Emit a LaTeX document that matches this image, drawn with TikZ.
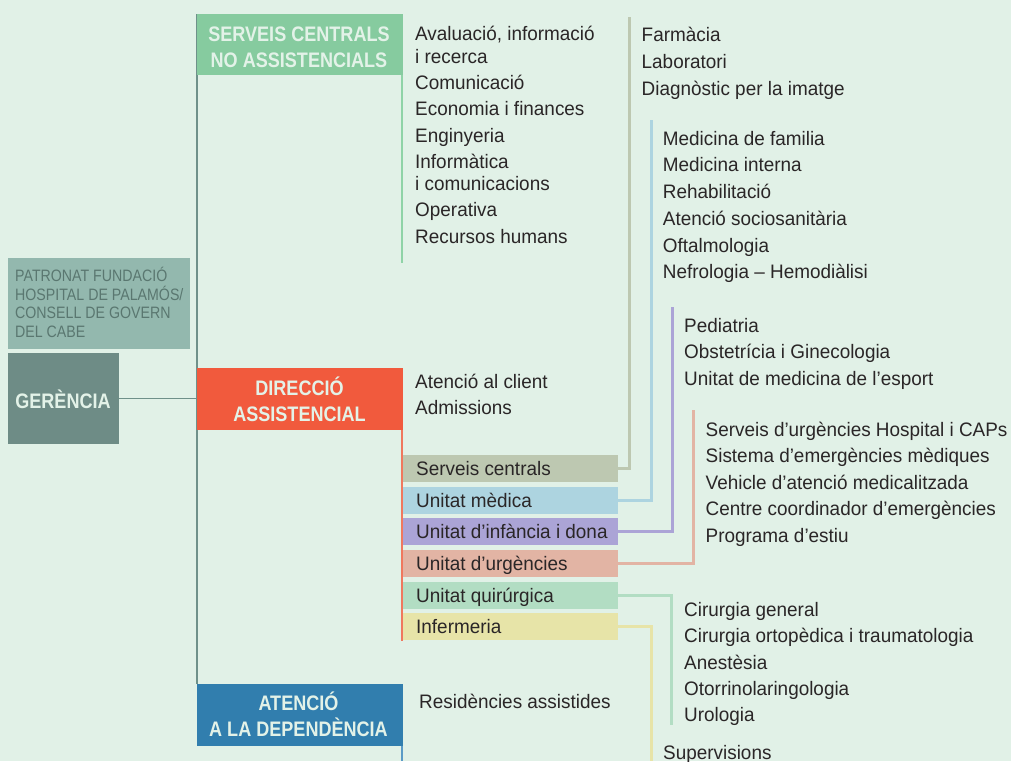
\documentclass[tikz,border=0pt]{standalone}
\usepackage{fontspec}
\setmainfont{Liberation Sans}[FakeStretch=0.97]
\newfontfamily\hfont{Liberation Sans}[FakeStretch=0.86]
\definecolor{bgc}{HTML}{E1F1E7}
\definecolor{trunkc}{HTML}{6F918A}
\definecolor{gerc}{HTML}{6E8C86}
\definecolor{patc}{HTML}{93B8AE}
\definecolor{pattext}{HTML}{5A7770}
\definecolor{scc}{HTML}{86CB9F}
\definecolor{sclinec}{HTML}{8FD3A7}
\definecolor{dirc}{HTML}{F15A3D}
\definecolor{dirlinec}{HTML}{F0785E}
\definecolor{atenc}{HTML}{317EAE}
\definecolor{atenlinec}{HTML}{5B9BC6}
\definecolor{headtxt}{HTML}{E3F2E8}
\definecolor{bodytxt}{HTML}{2A2627}
\definecolor{barsc}{HTML}{BDC8B1}
\definecolor{barmed}{HTML}{ADD4E0}
\definecolor{barinf}{HTML}{ABA4D6}
\definecolor{barurg}{HTML}{E2B4A4}
\definecolor{barqui}{HTML}{B2DDC3}
\definecolor{barinfer}{HTML}{E7E4A8}
\begin{document}
\begin{tikzpicture}[x=1pt,y=-1pt,
  box/.style={draw=none,inner sep=0pt,outer sep=0pt,anchor=north west},
  bar/.style={box,minimum width=215pt,minimum height=27pt},
  htext/.style={inner sep=0pt,anchor=base,text=headtxt,font=\hfont\bfseries\fontsize{21}{21}\selectfont},
  ptext/.style={inner sep=0pt,anchor=base west,text=pattext,font=\hfont\fontsize{16.5}{16.5}\selectfont},
  body/.style={inner sep=0pt,anchor=base west,text=bodytxt,font=\fontsize{19.5}{19.5}\selectfont},
  trunkline/.style={draw=trunkc,line width=1.5pt},
  conn/.style={line width=3pt},
  sideline/.style={line width=2pt}]
\useasboundingbox (0,0) rectangle (1011,761);
\fill[bgc] (0,0) rectangle (1011,761);

% trunk
\coordinate (trunkTop) at (197,14);
\coordinate (trunkBot) at (197,684);
\draw[trunkline] (trunkTop) -- (trunkBot);

% left boxes
\node[box,fill=patc,minimum width=182pt,minimum height=91pt] (pat) at (7.7,257.7) {};
\node[box,fill=gerc,minimum width=111.6pt,minimum height=90.7pt] (ger) at (7.7,353.3) {};
\draw[trunkline] (ger.east) -- (ger.east -| trunkTop);
\foreach \y/\txt [count=\i] in {281.7/{PATRONAT FUNDACIÓ},300/{HOSPITAL DE PALAMÓS/},318.5/{CONSELL DE GOVERN},337.3/{DEL CABE}}
  \node[ptext] (pat-\i) at (15,\y) {\txt};
\node[htext] (ger-t) at (63,408.5) {GERÈNCIA};

% heading boxes
\node[box,fill=scc,minimum width=205.5pt,minimum height=61pt] (sc) at (197,13.5) {};
\node[box,fill=dirc,minimum width=205.5pt,minimum height=62pt] (dir) at (197,368.3) {};
\node[box,fill=atenc,minimum width=205.5pt,minimum height=61.5pt] (aten) at (197,684) {};
\node[htext] (sc-t1) at (299,41.7) {SERVEIS CENTRALS};
\node[htext] (sc-t2) at (299,67.7) {NO ASSISTENCIALS};
\node[htext] (dir-t1) at (299.5,395.7) {DIRECCIÓ};
\node[htext] (dir-t2) at (299.5,421) {ASSISTENCIAL};
\node[htext] (aten-t1) at (298.5,710.7) {ATENCIÓ};
\node[htext] (aten-t2) at (298.5,736) {A LA DEPENDÈNCIA};

% side lines
\coordinate (scEnd) at (401.5,263);
\draw[sideline,sclinec] (sc.south east -| scEnd) -- (scEnd);
\coordinate (dirEnd) at (402,641);
\draw[sideline,dirlinec] (dir.south east -| dirEnd) -- (dirEnd);
\coordinate (atEnd) at (402,761);
\draw[sideline,atenlinec] (aten.south east -| atEnd) -- (atEnd);

% lists
\foreach \y/\txt [count=\i] in {40.8/{Avaluació, informació},63/{i recerca},89/{Comunicació},115.3/{Economia i finances},142/{Enginyeria},168/{Informàtica},190/{i comunicacions},216.7/{Operativa},243/{Recursos humans}}
  \node[body] (ncl-\i) at (415,\y) {\txt};
\node[body] (dir-l1) at (415,388.3) {Atenció al client};
\node[body] (dir-l2) at (415,414.3) {Admissions};
\node[body] (aten-l1) at (419,708) {Residències assistides};

% coloured connectors
\coordinate (c1) at (629,16.7);
\coordinate (c2) at (651,120);
\coordinate (c3) at (672,307);
\coordinate (c4) at (693,410);
\coordinate (c5) at (671,725);
\coordinate (c6) at (651,761);

\node[bar,fill=barsc] (b1) at (403,455) {};
\node[bar,fill=barmed] (b2) at (403,486.5) {};
\node[bar,fill=barinf] (b3) at (403,518) {};
\node[bar,fill=barurg] (b4) at (403,549.7) {};
\node[bar,fill=barqui] (b5) at (403,581.5) {};
\node[bar,fill=barinfer] (b6) at (403,612.5) {};

\draw[conn,barsc] (b1.east) -| (c1);
\draw[conn,barmed] (b2.east) -| (c2);
\draw[conn,barinf] (b3.east) -| (c3);
\draw[conn,barurg] (b4.east) -| (c4);
\draw[conn,barqui] (b5.east) -| (c5);
\draw[conn,barinfer] (b6.east) -| (c6);

\node[body] (b1-t) at (416,475.5) {Serveis centrals};
\node[body] (b2-t) at (416,507) {Unitat mèdica};
\node[body] (b3-t) at (416,538.5) {Unitat d’infància i dona};
\node[body] (b4-t) at (416,570.2) {Unitat d’urgències};
\node[body] (b5-t) at (416,602) {Unitat quirúrgica};
\node[body] (b6-t) at (416,633) {Infermeria};

\foreach \y/\txt [count=\i] in {41.7/{Farmàcia},68.3/{Laboratori},95/{Diagnòstic per la imatge}}
  \node[body] (s1-\i) at (641.5,\y) {\txt};
\foreach \y/\txt [count=\i] in {145.7/{Medicina de familia},171.9/{Medicina interna},198.6/{Rehabilitació},225.3/{Atenció sociosanitària},252/{Oftalmologia},278.7/{Nefrologia – Hemodiàlisi}}
  \node[body] (s2-\i) at (662.7,\y) {\txt};
\foreach \y/\txt [count=\i] in {332/{Pediatria},358.7/{Obstetrícia i Ginecologia},385.4/{Unitat de medicina de l’esport}}
  \node[body] (s3-\i) at (684,\y) {\txt};
\foreach \y/\txt [count=\i] in {436/{Serveis d’urgències Hospital i CAPs},462.6/{Sistema d’emergències mèdiques},489.2/{Vehicle d’atenció medicalitzada},515.8/{Centre coordinador d’emergències},542.4/{Programa d’estiu}}
  \node[body] (s4-\i) at (705.5,\y) {\txt};
\foreach \y/\txt [count=\i] in {616/{Cirurgia general},642.5/{Cirurgia ortopèdica i traumatologia},669/{Anestèsia},695.5/{Otorrinolaringologia},721.7/{Urologia}}
  \node[body] (s5-\i) at (684,\y) {\txt};
\node[body] (s6-1) at (663,759.5) {Supervisions};
\end{tikzpicture}
\end{document}
